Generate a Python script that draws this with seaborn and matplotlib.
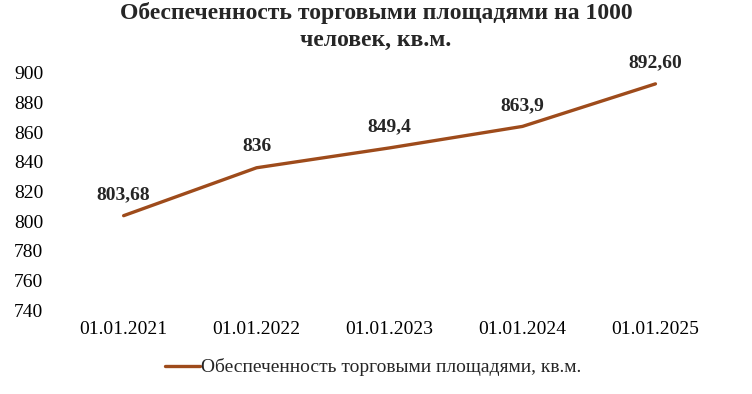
import pandas as pd
import matplotlib
matplotlib.use("Agg")
import matplotlib.pyplot as plt
import seaborn as sns

dates = ["01.01.2021", "01.01.2022", "01.01.2023", "01.01.2024", "01.01.2025"]
values = [803.68, 836.0, 849.4, 863.9, 892.6]
labels = ["803,68", "836", "849,4", "863,9", "892,60"]
series_name = "Обеспеченность торговыми площадями, кв.м."
title = "Обеспеченность торговыми площадями на 1000\nчеловек, кв.м."

sns.set_theme(style="white")
plt.rcParams["font.family"] = ["Liberation Serif", "DejaVu Serif"]

df = pd.DataFrame({"date": dates, "value": values})

fig = plt.figure(figsize=(7.52, 3.94), dpi=100)
ax = fig.add_axes([0.076, 0.213, 0.884, 0.602])

sns.lineplot(data=df, x="date", y="value", ax=ax, color="#9E4B1B",
             linewidth=2.4, label=series_name, sort=False)

for i, (v, t) in enumerate(zip(values, labels)):
    ax.annotate(t, (i, v), xytext=(0, 15), textcoords="offset points",
                ha="center", va="center", fontsize=14, fontweight="bold")

ax.set_xlim(-0.5, 4.5)
ax.set_ylim(740, 900)
ax.set_yticks(range(740, 901, 20))
ax.set_xlabel("")
ax.set_ylabel("")
ax.tick_params(axis="both", labelsize=14, length=0, colors="#000000")
ax.tick_params(axis="x", pad=8)
ax.tick_params(axis="y", pad=10)
sns.despine(ax=ax, left=True, bottom=True)

fig.suptitle(title, fontsize=17, fontweight="bold", x=0.5, y=0.995,
             va="top", linespacing=1.35)

ax.legend(loc="upper center", bbox_to_anchor=(0.475, -0.13), frameon=False,
          fontsize=14, handlelength=1.8, handletextpad=0.05)

fig.savefig("out.png", dpi=100)
